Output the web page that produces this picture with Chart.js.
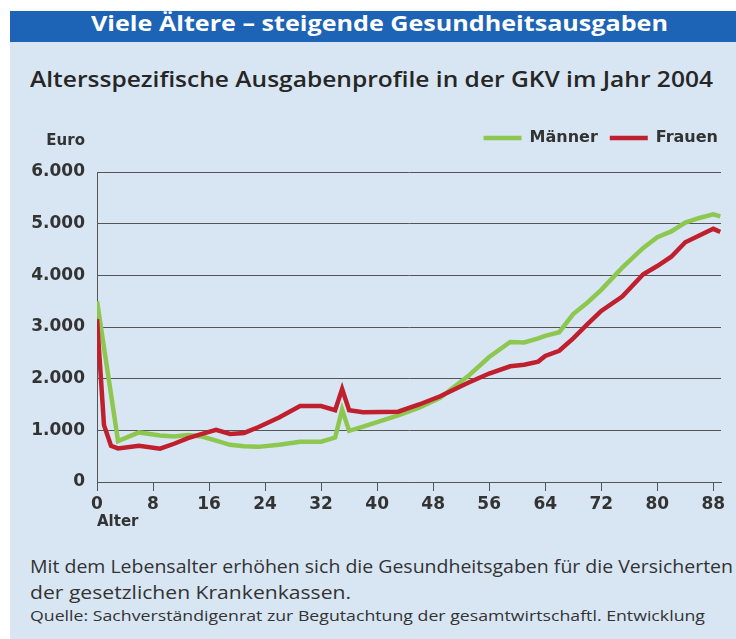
<!DOCTYPE html>
<html lang="de">
<head>
<meta charset="UTF-8">
<script src="https://cdn.jsdelivr.net/npm/chart.js@4.4.1/dist/chart.umd.min.js"></script>
<style>
    body { margin: 0; background: #fff; }
    #page { position: relative; width: 736px; height: 639px; overflow: hidden; background: #fff; }
    #panel { position: absolute; left: 10px; top: 11px; right: 0; bottom: 0; background: #d8e6f3; }
    #bar { position: absolute; left: 10px; top: 11px; right: 0; height: 31px; background: #1d63b6; }
    .txt { position: absolute; white-space: nowrap; transform-origin: 0 50%; }
    #title { left: 91px; top: 9px; line-height: 32px; color: #fff; font: bold 21px "Open Sans"; }
    #sub { left: 30px; top: 65px; line-height: 24px; color: #262626; font: 600 21px "Open Sans"; }
    #l1 { left: 30px; top: 554px; line-height: 22px; color: #333; font: 18px "Open Sans"; }
    #l2 { left: 30px; top: 580px; line-height: 22px; color: #333; font: 18px "Open Sans"; }
    #src { left: 30px; top: 605px; line-height: 18px; color: #333; font: 15px "Open Sans"; }
    #chart { position: absolute; left: 0; top: 118px; }
</style>
</head>
<body>
<div id="page">
    <div id="panel"></div>
    <div id="bar"></div>
    <div class="txt" id="title" data-w="577">Viele Ältere – steigende Gesundheitsausgaben</div>
    <div class="txt" id="sub" data-w="683">Altersspezifische Ausgabenprofile in der GKV im Jahr 2004</div>
    <div class="txt" id="l1" data-w="703">Mit dem Lebensalter erhöhen sich die Gesundheitsgaben für die Versicherten</div>
    <div class="txt" id="l2" data-w="321">der gesetzlichen Krankenkassen.</div>
    <div class="txt" id="src" data-w="675">Quelle: Sachverständigenrat zur Begutachtung der gesamtwirtschaftl. Entwicklung</div>
    <canvas id="chart" width="736" height="422"></canvas>
</div>
<script>
    // Werte (Euro je Versicherten)
    var ages    = [0, 1, 2, 3, 6, 9, 11, 13, 15, 17, 19, 21, 23, 26, 29, 32, 34, 35, 36, 38, 43, 46, 49, 53, 56, 59, 61, 63, 64, 66, 68, 70, 72, 75, 78, 80, 82, 84, 86, 88, 89];
    var maenner = [3500, 2600, 1700, 790, 960, 900, 880, 910, 880, 800, 720, 690, 680, 720, 780, 780, 860, 1400, 990, 1070, 1290, 1440, 1630, 2050, 2420, 2710, 2700, 2780, 2830, 2900, 3250, 3470, 3720, 4150, 4530, 4740, 4850, 5020, 5110, 5180, 5140];
    var frauen  = [3150, 1100, 700, 650, 700, 645, 740, 850, 930, 1010, 930, 950, 1060, 1250, 1470, 1470, 1390, 1800, 1390, 1350, 1360, 1500, 1660, 1920, 2100, 2240, 2270, 2330, 2440, 2540, 2780, 3050, 3310, 3590, 4020, 4180, 4360, 4640, 4770, 4900, 4840];
    var xTicks = [0, 8, 16, 24, 32, 40, 48, 56, 64, 72, 80, 88];
    var yTicks = [0, 1000, 2000, 3000, 4000, 5000, 6000];
    var yTickLabels = ['0', '1.000', '2.000', '3.000', '4.000', '5.000', '6.000'];

    // Texte auf Zielbreite strecken
    document.querySelectorAll('.txt').forEach(function (el) {
        var w = el.getBoundingClientRect().width;
        el.style.transform = 'scaleX(' + (el.dataset.w / w) + ')';
    });

    function points(values) {
        return ages.map(function (a, i) { return { x: a, y: values[i] }; });
    }

    // Legende: fester Abstand zur Grafik, etwas nach rechts
    var legendGap = {
        id: 'legendGap',
        beforeInit: function (chart) {
            var lg = chart.legend;
            var fit = lg.fit;
            lg.fit = function () {
                fit.call(this);
                this.height = 54;
            };
            var draw = lg.draw;
            lg.draw = function () {
                this.ctx.save();
                this.ctx.translate(9, 0);
                draw.call(this);
                this.ctx.restore();
            };
        }
    };

    var euroLabel = {
        id: 'euroLabel',
        afterDraw: function (chart) {
            var c = chart.ctx;
            c.save();
            c.font = 'bold 15px "DejaVu Sans"';
            c.fillStyle = '#333';
            c.textAlign = 'right';
            c.textBaseline = 'middle';
            c.fillText('Euro', chart.chartArea.left - 12, chart.chartArea.top - 31);
            c.restore();
        }
    };

    var ctx = document.getElementById('chart').getContext('2d');
    var myChart = new Chart(ctx, {
        type: 'line',
        data: {
            datasets: [
                {
                    label: 'Männer',
                    data: points(maenner),
                    borderColor: '#8dc750',
                    backgroundColor: '#8dc750',
                    borderWidth: 4.5,
                    pointRadius: 0,
                    tension: 0,
                    order: 2
                },
                {
                    label: 'Frauen',
                    data: points(frauen),
                    borderColor: '#c0202e',
                    backgroundColor: '#c0202e',
                    borderWidth: 4.5,
                    pointRadius: 0,
                    tension: 0,
                    order: 1
                }
            ]
        },
        options: {
            responsive: false,
            animation: false,
            layout: { padding: { left: 0, right: 15, top: 0, bottom: 0 } },
            plugins: {
                legend: {
                    position: 'top',
                    align: 'end',
                    labels: {
                        usePointStyle: true,
                        pointStyle: 'line',
                        pointStyleWidth: 38,
                        padding: 12,
                        color: '#333',
                        font: { family: 'DejaVu Sans', weight: 'bold', size: 16 },
                        sort: function (a, b) { return a.datasetIndex - b.datasetIndex; }
                    }
                },
                tooltip: { enabled: false }
            },
            scales: {
                x: {
                    type: 'linear',
                    min: 0,
                    max: 89.1,
                    afterBuildTicks: function (s) { s.ticks = xTicks.map(function (v) { return { value: v }; }); },
                    afterFit: function (s) { s.height = 58; },
                    ticks: {
                        color: '#333',
                        padding: 3,
                        maxRotation: 0,
                        font: { family: 'DejaVu Sans', weight: 'bold', size: 17 }
                    },
                    grid: { drawOnChartArea: false, tickLength: 9, color: '#555' },
                    border: { color: '#555' },
                    title: {
                        display: true,
                        text: 'Alter',
                        align: 'start',
                        color: '#333',
                        padding: { top: 0, bottom: 9 },
                        font: { family: 'DejaVu Sans', weight: 'bold', size: 15 }
                    }
                },
                y: {
                    min: 0,
                    max: 6000,
                    afterBuildTicks: function (s) { s.ticks = yTicks.map(function (v) { return { value: v }; }); },
                    afterFit: function (s) { s.width = 97; },
                    ticks: {
                        color: '#333',
                        padding: 12,
                        callback: function (v) { return yTickLabels[yTicks.indexOf(v)]; },
                        font: { family: 'DejaVu Sans', weight: 'bold', size: 17 }
                    },
                    grid: { drawTicks: false, color: '#555' },
                    border: { color: '#555' }
                }
            }
        },
        plugins: [legendGap, euroLabel]
    });
</script>
</body>
</html>
